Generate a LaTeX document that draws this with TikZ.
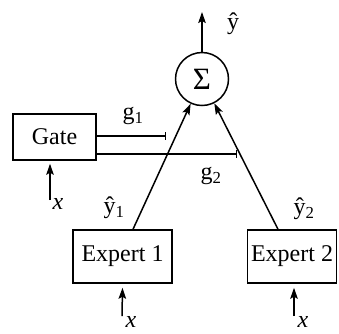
\documentclass[tikz,border=0pt]{standalone}
\usepackage{fontspec}
\setmainfont{Liberation Serif}
\usetikzlibrary{arrows.meta}
\begin{document}
\begin{tikzpicture}[x=1pt,y=-1pt,
  line width=1.5pt,
  every node/.style={font=\fontsize{24}{28}\selectfont, inner sep=0pt},
  box/.style={draw, rectangle},
  arr/.style={-{Stealth[length=11pt,width=7.5pt,inset=2pt]}},
  gline/.style={-{Bar[width=8pt,line width=1.5pt]}},
  lab/.style={}]
\useasboundingbox (0,0) rectangle (339,333);
% nodes
\node[draw, circle, minimum size=53pt, font=\fontsize{31}{34}\selectfont] (sum) at (202,79) {Σ};
\node[box, minimum width=83pt, minimum height=46pt] (gate) at (54.5,137) {Gate};
\node[box, minimum width=99pt, minimum height=53pt] (e1) at (122.5,256.5) {Expert 1};
\node[box, minimum width=89pt, minimum height=53pt] (e2) at (292,256.5) {Expert 2};
% free ends
\coordinate (out) at (202,12);
\coordinate (g1end) at (166,136);
\coordinate (g2end) at (237,154);
\coordinate (xin0) at (50,200);
\coordinate (xin1) at (122,316);
\coordinate (xin2) at (294,316);
% connectors
\draw[arr] (sum) -- (out);
\draw[arr] ([xshift=10.5pt]e1.north) -- (sum);
\draw[arr] ([xshift=-14pt]e2.north) -- (sum);
\draw[gline] ([yshift=1pt]gate.east) -- (g1end);
\draw[gline] ([yshift=-17pt]gate.east) -- (g2end);
\draw[arr] (xin0) -- ([xshift=-4.5pt,yshift=-3pt]gate.south);
\draw[arr] (xin1) -- ([yshift=-4pt]e1.south);
\draw[arr] (xin2) -- ([yshift=-4pt,xshift=2pt]e2.south);
% labels
\node[lab] (ly) at (233,24) {ŷ};
\node[lab] (lg1) at (133,116) {g\textsubscript{1}};
\node[lab] (lg2) at (211,176) {g\textsubscript{2}};
\node[lab] (ly1) at (114,208) {ŷ\textsubscript{1}};
\node[lab] (ly2) at (304,209) {ŷ\textsubscript{2}};
\node[lab] (lx0) at (58,204) {\textit{x}};
\node[lab] (lx1) at (131,322) {\textit{x}};
\node[lab] (lx2) at (303,322) {\textit{x}};
\end{tikzpicture}
\end{document}
